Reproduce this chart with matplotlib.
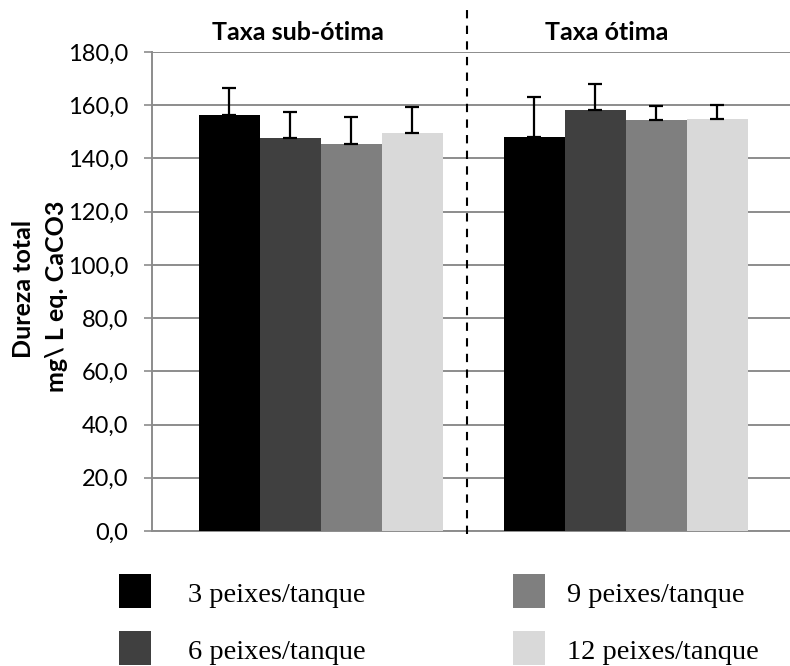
import matplotlib
matplotlib.use("Agg")
import matplotlib.pyplot as plt
from matplotlib.lines import Line2D
from matplotlib.patches import Rectangle
import matplotlib.transforms as mtransforms
import numpy as np

# Data
groups = ["Taxa sub-ótima", "Taxa ótima"]
densities = ["3 peixes/tanque", "6 peixes/tanque", "9 peixes/tanque", "12 peixes/tanque"]
means = {
    "3 peixes/tanque": [156.3, 148.1],
    "6 peixes/tanque": [147.7, 158.2],
    "9 peixes/tanque": [145.4, 154.5],
    "12 peixes/tanque": [149.6, 154.8],
}
errors = {
    "3 peixes/tanque": [10.1, 14.9],
    "6 peixes/tanque": [9.6, 9.8],
    "9 peixes/tanque": [10.0, 5.1],
    "12 peixes/tanque": [9.9, 5.4],
}
yticks = [0, 20, 40, 60, 80, 100, 120, 140, 160, 180]
colors = ["#000000", "#404040", "#7f7f7f", "#d9d9d9"]

W, H = 790, 666
fig = plt.figure(figsize=(W / 100, H / 100), dpi=100)
ax = fig.add_axes([152 / W, 1 - 531 / H, (790 - 152) / W, (531 - 52) / H])

sans = "Lato"
serif = "Liberation Serif"

x = np.arange(len(groups))
bw = 0.2
bars = []
for i, d in enumerate(densities):
    pos = x + (i - 1.5) * bw
    b = ax.bar(pos, means[d], width=bw, color=colors[i], label=d, zorder=3)
    ax.errorbar(pos, means[d], yerr=[np.zeros(len(groups)), errors[d]],
                fmt="none", ecolor="black", elinewidth=1.6, capsize=4.8,
                capthick=1.6, zorder=4)
    bars.append(b)

ax.set_xlim(-0.5525, 1.539)
ax.set_ylim(0, 180)
ax.set_yticks(yticks)
ax.set_yticklabels([f"{v:.1f}".replace(".", ",") for v in yticks],
                   fontsize=17, family=sans)
ax.set_xticks([])
ax.yaxis.grid(True, color="#8c8c8c", linewidth=1.4, zorder=0)
ax.set_axisbelow(True)
ax.tick_params(axis="y", length=6, width=1.2, color="#8c8c8c", pad=11)
for s in ["top", "right"]:
    ax.spines[s].set_visible(False)
for s in ["left", "bottom"]:
    ax.spines[s].set_color("#8c8c8c")
    ax.spines[s].set_linewidth(1.4)

# Group titles above each cluster
title_tr = mtransforms.blended_transform_factory(ax.transData, fig.transFigure)
for gx, name in zip([-0.075, 0.938], groups):
    ax.text(gx, 1 - 33 / H, name, transform=title_tr,
            ha="center", va="center", fontsize=18, fontweight="bold", family=sans)

# Dashed separator between groups
fig.add_artist(Line2D([467 / W, 467 / W], [1 - 534 / H, 1 - 10 / H],
                      transform=fig.transFigure, color="black", linewidth=1.5,
                      linestyle=(0, (4, 3.5))))

# Y label (two lines)
fig.text(24 / W, 1 - 289 / H, "Dureza total", rotation=90, ha="center", va="center",
         fontsize=18, fontweight="bold", family=sans)
fig.text(56 / W, 1 - 296 / H, "mg\\ L eq. CaCO3", rotation=90, ha="center", va="center",
         fontsize=18, fontweight="bold", family=sans)

# Legend: two columns of colour swatches with labels
legend_cols = [(119, 188), (513, 567)]
legend_rows = [(574, 602), (631, 659)]
for i, (d, b) in enumerate(zip(densities, bars)):
    cx, tx = legend_cols[i // 2]
    top, base = legend_rows[i % 2]
    fig.add_artist(Rectangle((cx / W, 1 - (top + 34) / H), 32 / W, 34 / H,
                             transform=fig.transFigure,
                             facecolor=b.patches[0].get_facecolor(), edgecolor="none"))
    fig.text(tx / W, 1 - base / H, d, ha="left", va="baseline",
             fontsize=20.5, family=serif)

fig.savefig("out.png", dpi=100)
